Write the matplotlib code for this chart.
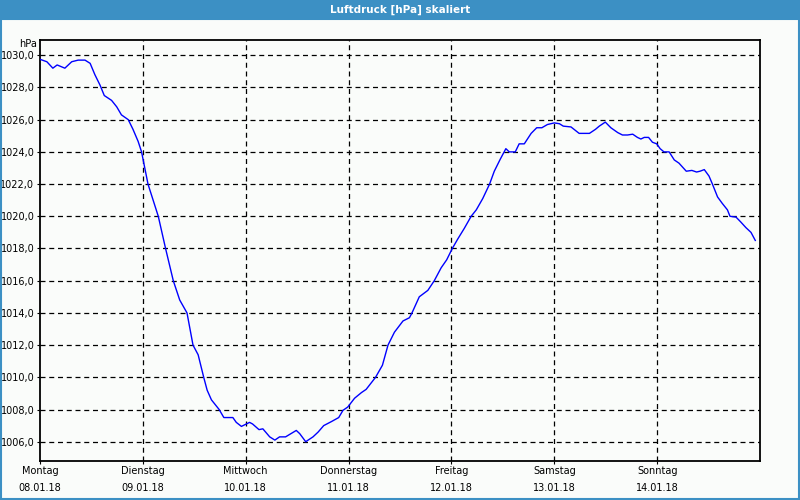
import matplotlib
matplotlib.use("Agg")
import matplotlib.pyplot as plt
from matplotlib.patches import Rectangle

# Luftdruck, Stunden ab Montag 08.01.18 00:00
hours = [0.0, 1.6, 3.0, 4.0, 5.8, 7.4, 8.9, 10.5, 11.7, 12.8, 14.0, 15.0, 16.7, 17.9,
         19.0, 20.6, 21.7, 22.9, 23.7, 25.2, 27.6, 29.3, 31.1, 32.6, 34.3, 35.7, 36.9,
         38.2, 39.0, 40.0, 41.8, 42.9, 45.0, 45.8, 47.0, 48.9, 49.6, 51.1, 52.0, 53.6,
         54.8, 55.9, 57.3, 59.8, 60.6, 62.0, 63.7, 64.9, 66.2, 68.0, 69.7, 70.7, 71.8,
         73.4, 75.0, 76.1, 78.3, 79.9, 81.2, 82.7, 84.7, 86.2, 86.8, 88.5, 90.5, 92.0,
         93.6, 94.9, 96.2, 97.5, 99.0, 100.6, 101.8, 103.3, 104.9, 106.0, 107.4, 108.7,
         109.5, 110.9, 111.8, 113.0, 114.6, 115.9, 117.1, 118.4, 120.0, 121.2, 122.1,
         123.9, 125.8, 128.2, 129.6, 130.5, 131.9, 133.2, 134.8, 135.9, 137.1, 138.3,
         139.4, 140.2, 141.0, 142.0, 142.9, 143.9, 144.7, 145.6, 146.8, 148.0, 149.1,
         150.8, 152.1, 153.2, 154.0, 155.0, 156.1, 156.9, 158.1, 159.2, 160.4, 161.0,
         162.4, 163.5, 164.7, 165.9, 166.9]
pressure = [1029.75, 1029.6, 1029.2, 1029.4, 1029.2, 1029.6, 1029.7, 1029.7, 1029.5, 1028.8,
            1028.15, 1027.5, 1027.2, 1026.8, 1026.3, 1026.0, 1025.4, 1024.65, 1024.0, 1022.0,
            1020.0, 1018.0, 1016.0, 1014.8, 1014.0, 1012.0, 1011.4, 1010.0, 1009.2, 1008.6,
            1008.0, 1007.5, 1007.5, 1007.2, 1006.95, 1007.2, 1007.1, 1006.75, 1006.8, 1006.3,
            1006.1, 1006.3, 1006.3, 1006.7, 1006.5, 1006.0, 1006.3, 1006.6, 1007.0, 1007.25,
            1007.5, 1007.95, 1008.15, 1008.7, 1009.05, 1009.25, 1010.0, 1010.75, 1012.0, 1012.8,
            1013.5, 1013.7, 1014.0, 1015.0, 1015.4, 1016.0, 1016.8, 1017.3, 1018.0, 1018.6,
            1019.25, 1020.0, 1020.4, 1021.1, 1022.0, 1022.8, 1023.55, 1024.2, 1024.0, 1024.0,
            1024.5, 1024.5, 1025.15, 1025.5, 1025.5, 1025.7, 1025.8, 1025.75, 1025.6, 1025.55,
            1025.15, 1025.15, 1025.4, 1025.6, 1025.85, 1025.5, 1025.2, 1025.05, 1025.05, 1025.1,
            1024.9, 1024.8, 1024.9, 1024.9, 1024.6, 1024.5, 1024.2, 1024.0, 1024.0, 1023.5,
            1023.3, 1022.8, 1022.85, 1022.75, 1022.8, 1022.9, 1022.5, 1022.0, 1021.2, 1020.8,
            1020.4, 1020.0, 1019.95, 1019.65, 1019.3, 1019.0, 1018.5]

day_names = ["Montag", "Dienstag", "Mittwoch", "Donnerstag", "Freitag", "Samstag", "Sonntag"]
day_dates = ["08.01.18", "09.01.18", "10.01.18", "11.01.18", "12.01.18", "13.01.18", "14.01.18"]
y_ticks = [1006, 1008, 1010, 1012, 1014, 1016, 1018, 1020, 1022, 1024, 1026, 1028, 1030]

bar_col = "#3c90c4"
bg_col = "#fafcfa"

fig = plt.figure(figsize=(8, 5), dpi=100, facecolor=bg_col)

# Titelleiste + Rahmen
fig.patches.append(Rectangle((0, 1 - 20 / 500), 1, 20 / 500, transform=fig.transFigure,
                             facecolor=bar_col, edgecolor="none", zorder=0))
fig.patches.append(Rectangle((0.5 / 800, 1.5 / 500), 798 / 800, 480 / 500, transform=fig.transFigure,
                             facecolor="none", edgecolor=bar_col, lw=1.5, zorder=0))
fig.text(0.5, 1 - 10 / 500, "Luftdruck [hPa] skaliert", color="white", fontsize=7.5,
         fontweight="bold", ha="center", va="center")

ax = fig.add_axes([40 / 800, 1 - 460.7 / 500, 720 / 800, 420.7 / 500])
ax.set_facecolor(bg_col)
ax.plot(hours, pressure, color="#0000ff", lw=1, zorder=3)

ax.set_xlim(0, 168)
ax.set_ylim(1004.82, 1030.95)

ax.set_yticks(y_ticks)
ax.set_yticklabels([("%.1f" % v).replace(".", ",") for v in y_ticks], fontsize=7)
ax.set_xticks([24 * i for i in range(7)])
ax.set_xticklabels([n + "\n" + d for n, d in zip(day_names, day_dates)], fontsize=7,
                   linespacing=1.9)
ax.tick_params(axis="x", length=2, pad=2, color="black")
ax.tick_params(axis="y", length=2, pad=2)

for v in y_ticks:
    ax.axhline(v, color="black", lw=0.9, ls=(0, (4, 3)), zorder=1)
for i in range(1, 7):
    ax.axvline(24 * i, color="black", lw=0.9, ls=(0, (4, 3)), zorder=1)

for s in ax.spines.values():
    s.set_linewidth(1.3)

fig.text(37 / 800, 1 - 44 / 500, "hPa", fontsize=7, ha="right", va="center")

fig.savefig("out.png", dpi=100, facecolor=bg_col)
